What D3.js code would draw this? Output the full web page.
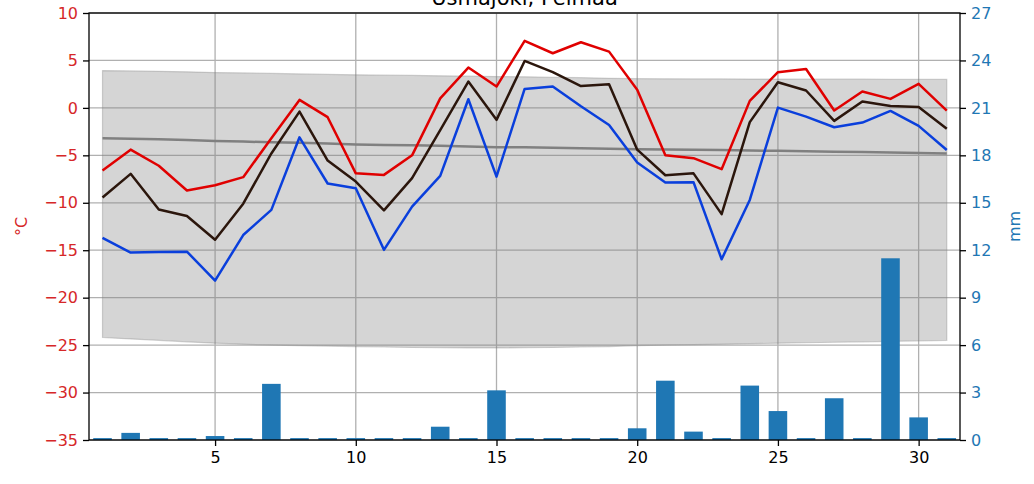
<!DOCTYPE html>
<html><head><meta charset="utf-8">
<script src="https://cdn.jsdelivr.net/npm/d3@7"></script>
<style>body{margin:0;background:#fff}svg{display:block}text{font-family:"DejaVu Sans",sans-serif}</style>
</head><body><svg id="c" width="1034" height="484"></svg>
<script>
const title = "Usmajoki, Pelmaa";
const days = d3.range(1, 32);
const tMax = [-6.6,-4.4,-6.1,-8.7,-8.15,-7.3,-3.2,0.84,-0.98,-6.9,-7.06,-5.0,1.0,4.25,2.25,7.06,5.76,6.92,5.93,1.9,-4.99,-5.3,-6.46,0.74,3.76,4.1,-0.28,1.72,0.95,2.53,-0.28];
const tMean = [-9.45,-6.95,-10.7,-11.4,-13.9,-10.1,-4.8,-0.39,-5.55,-7.76,-10.8,-7.4,-2.35,2.77,-1.26,4.95,3.76,2.3,2.5,-4.4,-7.1,-6.9,-11.2,-1.5,2.7,1.83,-1.37,0.67,0.2,0.1,-2.2];
const tMin = [-13.7,-15.25,-15.2,-15.15,-18.2,-13.4,-10.75,-3.1,-7.97,-8.46,-14.96,-10.4,-7.17,0.91,-7.24,2.0,2.25,0.17,-1.8,-5.76,-7.87,-7.83,-15.95,-9.7,0.03,-0.92,-2.04,-1.55,-0.32,-1.9,-4.43];
const tClim = [-3.2,-3.25,-3.3,-3.38,-3.48,-3.55,-3.62,-3.68,-3.75,-3.85,-3.9,-3.95,-4.0,-4.08,-4.15,-4.15,-4.2,-4.25,-4.3,-4.35,-4.38,-4.42,-4.45,-4.5,-4.53,-4.57,-4.62,-4.66,-4.7,-4.75,-4.8];
const bandHi = [3.93,3.9,3.85,3.8,3.72,3.68,3.63,3.58,3.53,3.48,3.45,3.42,3.38,3.34,3.3,3.27,3.23,3.18,3.12,3.08,3.06,3.05,3.05,3.04,3.04,3.03,3.03,3.03,3.02,3.02,3.02];
const bandLo = [-24.2,-24.35,-24.5,-24.65,-24.8,-24.9,-25.0,-25.05,-25.1,-25.15,-25.2,-25.25,-25.28,-25.3,-25.3,-25.28,-25.25,-25.2,-25.15,-25.05,-25.0,-24.95,-24.9,-24.85,-24.8,-24.75,-24.7,-24.65,-24.6,-24.55,-24.5];
const precip = [0.12,0.45,0.12,0.12,0.25,0.12,3.55,0.12,0.12,0.12,0.12,0.12,0.84,0.12,3.14,0.12,0.12,0.12,0.12,0.74,3.75,0.53,0.12,3.44,1.83,0.12,2.64,0.12,11.49,1.43,0.12];
const xTicks = [5,10,15,20,25,30];
const tTicks = d3.range(-35, 11, 5);
const pTicks = d3.range(0, 28, 3);

const L = 89, R = 960, T = 13, B = 440;
const svg = d3.select("#c");
const x = d3.scaleLinear().domain([0.52, 31.47]).range([L, R]);
const yT = d3.scaleLinear().domain([-35, 10]).range([B, T]);
const yP = d3.scaleLinear().domain([0, 27]).range([B, T]);

svg.append("defs").append("clipPath").attr("id","clip").append("rect")
  .attr("x",L).attr("y",T).attr("width",R-L).attr("height",B-T);

const grid = svg.append("g").attr("stroke","#b0b0b0").attr("stroke-width",1.3);
grid.selectAll(".gx").data(xTicks).join("line").attr("x1",d=>x(d)).attr("x2",d=>x(d)).attr("y1",T).attr("y2",B);
grid.selectAll(".gy").data(tTicks).join("line").attr("x1",L).attr("x2",R).attr("y1",d=>yT(d)).attr("y2",d=>yT(d));

const plot = svg.append("g").attr("clip-path","url(#clip)");
const area = d3.area().x((d,i)=>x(days[i])).y0((d,i)=>yT(bandLo[i])).y1((d,i)=>yT(bandHi[i]));
plot.append("path").datum(days).attr("d",area).attr("fill","#808080").attr("fill-opacity",0.33)
  .attr("stroke","#808080").attr("stroke-opacity",0.35).attr("stroke-width",1.2);

function line(vals, color, w){
  plot.append("path").datum(vals)
    .attr("d", d3.line().x((d,i)=>x(days[i])).y(d=>yT(d)))
    .attr("fill","none").attr("stroke",color).attr("stroke-width",w).attr("stroke-linejoin","round");
}
line(tClim, "#808080", 2.5);
line(tMax, "#e00000", 2.5);
line(tMean, "#2b160c", 2.5);
line(tMin, "#0a3fdc", 2.5);

const bw = 0.66;
plot.selectAll(".bar").data(precip).join("rect")
  .attr("x",(d,i)=>x(days[i]-bw/2)).attr("width",x(bw)-x(0))
  .attr("y",d=>yP(d)).attr("height",d=>B-yP(d)).attr("fill","#1f77b4");

// axes
const axL = svg.append("g").attr("transform",`translate(${L},0)`)
  .call(d3.axisLeft(yT).tickValues(tTicks).tickSize(6).tickPadding(5));
const axR = svg.append("g").attr("transform",`translate(${R},0)`)
  .call(d3.axisRight(yP).tickValues(pTicks).tickSize(6).tickPadding(5));
const axB = svg.append("g").attr("transform",`translate(0,${B})`)
  .call(d3.axisBottom(x).tickValues(xTicks).tickSize(6).tickPadding(6));
[axL,axR,axB].forEach(a=>{a.select(".domain").remove();a.selectAll("line").attr("stroke","#000").attr("stroke-width",1.3);
  a.selectAll("text").attr("font-size",16).attr("font-family","DejaVu Sans");});
axL.selectAll("text").attr("fill","#d62728");
axR.selectAll("text").attr("fill","#1f77b4");
axB.selectAll("text").attr("fill","#000");

svg.append("rect").attr("x",L).attr("y",T).attr("width",R-L).attr("height",B-T)
  .attr("fill","none").attr("stroke","#000").attr("stroke-width",1.3);

svg.append("text").attr("transform",`translate(27,${(T+B)/2}) rotate(-90)`).attr("text-anchor","middle")
  .attr("font-size",16).attr("fill","#d62728").text("°C");
svg.append("text").attr("transform",`translate(1020,${(T+B)/2}) rotate(-90)`).attr("text-anchor","middle")
  .attr("font-size",16).attr("fill","#1f77b4").text("mm");
svg.append("text").attr("x",(L+R)/2).attr("y",5).attr("text-anchor","middle")
  .attr("font-size",21).attr("fill","#000").text(title);
</script></body></html>
